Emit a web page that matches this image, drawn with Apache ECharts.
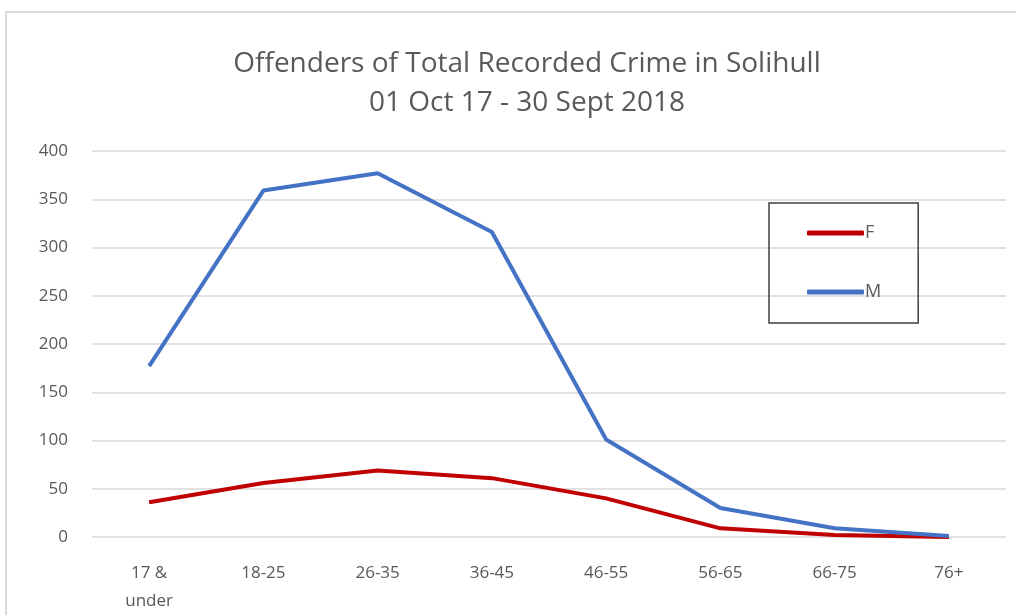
<!DOCTYPE html>
<html><head><meta charset="utf-8">
<script src="https://cdn.jsdelivr.net/npm/echarts@6/dist/echarts.min.js"></script>
<style>html,body{margin:0;padding:0;background:#fff}#c{width:1016px;height:615px}</style>
</head><body><div id="c"></div>
<script>
const categories = ['17 &\nunder','18-25','26-35','36-45','46-55','56-65','66-75','76+'];
const femaleValues = [36, 56, 69, 61, 40, 9, 2, 0];
const maleValues = [177, 359, 377, 316, 101, 30, 9, 1];
const yTicks = {min: 0, max: 400, interval: 50};

const chart = echarts.init(document.getElementById('c'));
const font = '"Open Sans", sans-serif';
chart.setOption({
  animation: false,
  textStyle: {fontFamily: font},
  graphic: [{type: 'rect', shape: {x: 6, y: 12, width: 1030, height: 640}, style: {fill: 'none', stroke: '#d9d9d9', lineWidth: 2}}],
  title: {
    text: 'Offenders of Total Recorded Crime in Solihull\n01 Oct 17 - 30 Sept 2018',
    left: 522, top: 40, textAlign: 'center',
    textStyle: {fontSize: 28, fontWeight: 'normal', color: '#595959', lineHeight: 39, fontFamily: font}
  },
  legend: {
    orient: 'vertical', left: 769, top: 203,
    padding: [20, 37, 21, 38], itemGap: 39,
    itemWidth: 57, itemHeight: 5, icon: 'roundRect',
    borderColor: '#404040', borderWidth: 1.5,
    textStyle: {fontSize: 18, color: '#595959', padding: [0,0,0,-4], lineHeight: 20, fontFamily: font},
    data: ['F', 'M']
  },
  grid: {left: 92, right: 10, top: 151, bottom: 74},
  xAxis: {
    type: 'category', data: categories, boundaryGap: true,
    axisLine: {show: false}, axisTick: {show: false},
    axisLabel: {color: '#595959', fontSize: 17, margin: 22, lineHeight: 28, fontFamily: font}
  },
  yAxis: {
    type: 'value', min: yTicks.min, max: yTicks.max, interval: yTicks.interval,
    axisLine: {show: false}, axisTick: {show: false},
    axisLabel: {color: '#595959', fontSize: 17, margin: 24, fontFamily: font},
    splitLine: {lineStyle: {color: '#d9d9d9', width: 1.5}}
  },
  series: [
    {name: 'F', type: 'line', data: femaleValues, symbol: 'none', lineStyle: {color: '#C00000', width: 4}, itemStyle: {color: '#C00000'}},
    {name: 'M', type: 'line', data: maleValues, symbol: 'none', lineStyle: {color: '#4472C4', width: 4}, itemStyle: {color: '#4472C4'}}
  ]
});
</script></body></html>
